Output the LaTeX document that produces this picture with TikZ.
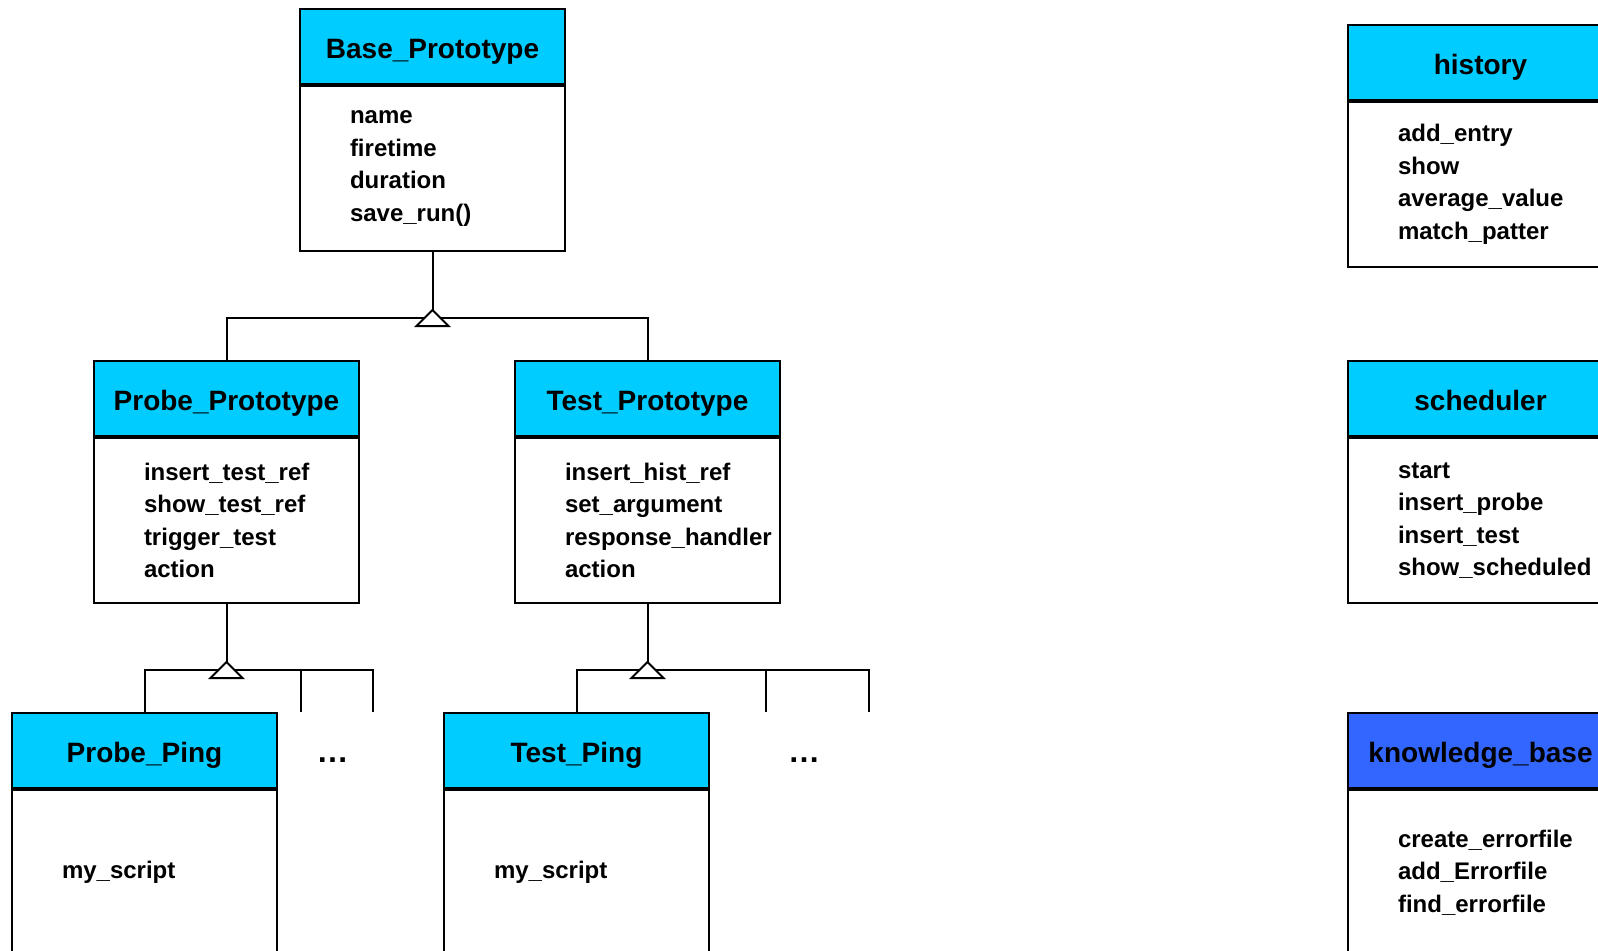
\documentclass[tikz,border=0pt]{standalone}
\usepackage{fontspec}
\setmainfont{Liberation Sans}
\usetikzlibrary{positioning,calc}
\definecolor{headcyan}{RGB}{0,204,255}
\definecolor{headblue}{RGB}{51,102,255}
\hyphenpenalty=10000
\tikzset{
node distance=0pt,
head node/.style={draw,line width=1pt,fill=headcyan,anchor=north west,minimum width=132.5pt,minimum height=37.5pt,inner sep=0pt,text height=12pt,text depth=0pt,font=\bfseries\fontsize{14}{16}\selectfont},
body node/.style={draw,line width=1pt,below=of #1,minimum width=132.5pt,minimum height=82.5pt,text width=82.5pt,inner xsep=25pt,inner ysep=0pt,align=left,font=\bfseries\fontsize{12}{16.25}\selectfont},
linea/.style={line width=1pt},
gen/.style={fill=white,line width=1pt,line join=miter},
dots/.style={inner sep=0pt,font=\bfseries\fontsize{16}{16}\selectfont}}

\begin{document}
\begin{tikzpicture}[x=0.5pt,y=-0.5pt]

\useasboundingbox (0,0) rectangle (1598,950);
\clip (0,0) rectangle (1598,950);

% classes
\node[head node] (base) at (299,8) {Base\_Prototype};
\node[body node=base] (base body) {name\\firetime\\duration\\save\_run()};

\node[head node] (pp) at (93,360) {Probe\_Prototype};
\node[body node=pp] (pp body) {insert\_test\_ref\\show\_test\_ref\\trigger\_test\\action};

\node[head node] (tp) at (514,360) {Test\_Prototype};
\node[body node=tp] (tp body) {insert\_hist\_ref\\set\_argument\\response\_handler\\action};

\node[head node] (ping1) at (11,712) {Probe\_Ping};
\node[body node=ping1] (ping1 body) {my\_script};

\node[head node] (ping2) at (443,712) {Test\_Ping};
\node[body node=ping2] (ping2 body) {my\_script};

\node[head node] (hist) at (1347,24) {history};
\node[body node=hist] (hist body) {add\_entry\\show\\average\_value\\match\_patter};

\node[head node] (sched) at (1347,360) {scheduler};
\node[body node=sched] (sched body) {start\\insert\_probe\\insert\_test\\show\_scheduled};

\node[head node,fill=headblue] (kb) at (1347,712) {knowledge\_base};
\node[body node=kb] (kb body) {create\_errorfile\\add\_Errorfile\\find\_errorfile};

\foreach \n in {base,pp,tp,ping1,ping2,hist,sched,kb}
	\draw[line width=1.5pt] (\n.south west) -- (\n.south east);

\node[dots] (more1) at (332.5,760) {\ldots};
\node[dots] (more2) at (804,760) {\ldots};

% inheritance
\coordinate (t1) at (base body.south |- 0,310);
\coordinate (t2) at (pp body.south |- 0,662);
\coordinate (t3) at (tp body.south |- 0,662);
\coordinate (b1) at ($(t1)+(0,8)$);
\coordinate (b2) at ($(t2)+(0,8)$);
\coordinate (b3) at ($(t3)+(0,8)$);
\coordinate (e1) at (301,712);
\coordinate (e2) at (373,712);
\coordinate (e3) at (766,712);
\coordinate (e4) at (869,712);

\draw[linea] (base body) -- (t1);
\draw[linea] (pp) |- (b1) -| (tp);

\draw[linea] (pp body) -- (t2);
\draw[linea] (ping1) |- (b2) -- (b2 -| e2) -- (e2);
\draw[linea] (e1 |- b2) -- (e1);

\draw[linea] (tp body) -- (t3);
\draw[linea] (ping2) |- (b3) -- (b3 -| e4) -- (e4);
\draw[linea] (e3 |- b3) -- (e3);

\foreach \t in {t1,t2,t3}
	\draw[gen] (\t) -- ++(-8pt,-8pt) -- ++(16pt,0pt) -- cycle;
\end{tikzpicture}
\end{document}
